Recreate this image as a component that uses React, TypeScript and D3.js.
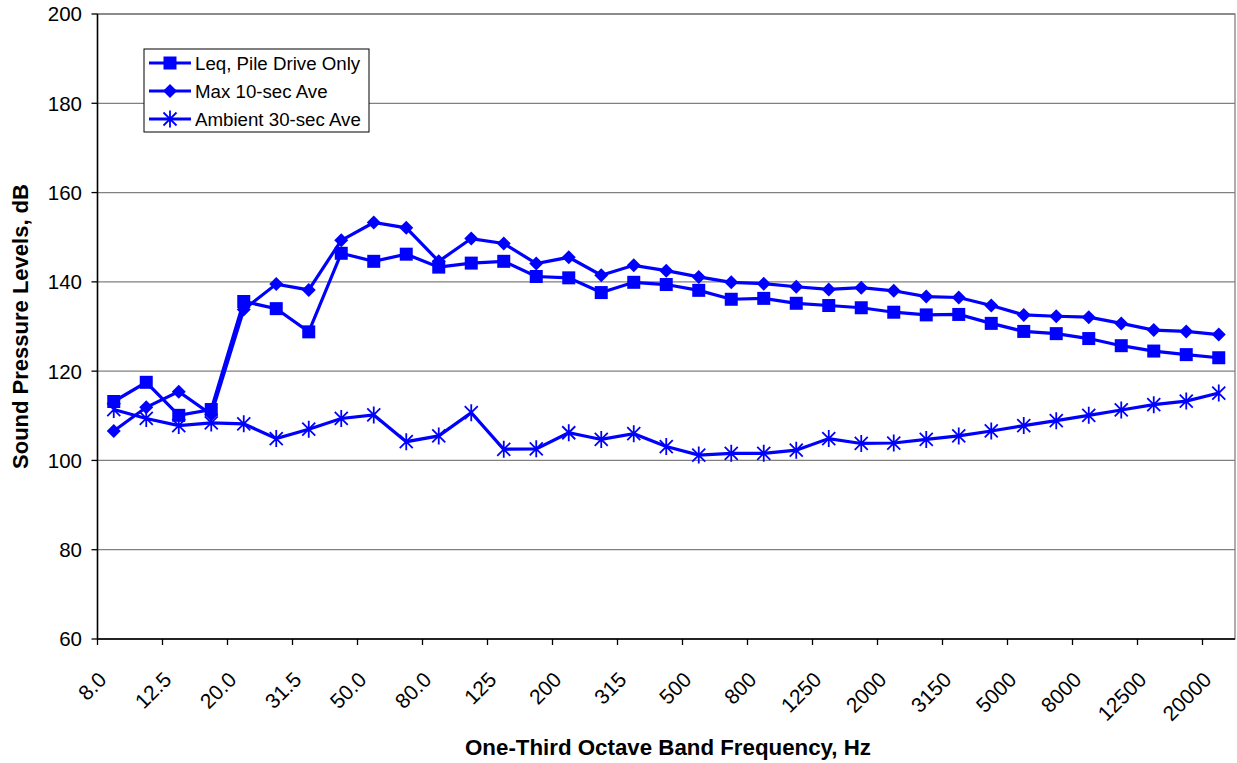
import React from 'react';
import * as d3 from 'd3';

// one-third octave band centre frequencies (Hz)
const bands = [
  '8.0', '10.0', '12.5', '16.0', '20.0', '25.0', '31.5', '40.0', '50.0', '63.0',
  '80.0', '100', '125', '160', '200', '250', '315', '400', '500', '630',
  '800', '1000', '1250', '1600', '2000', '2500', '3150', '4000', '5000', '6300',
  '8000', '10000', '12500', '16000', '20000',
];

const leqPileDrive = [
  113.2, 117.5, 110.1, 111.4, 135.6, 134.0, 128.8, 146.4, 144.6, 146.2,
  143.3, 144.2, 144.6, 141.2, 140.9, 137.6, 139.9, 139.4, 138.1, 136.1,
  136.3, 135.2, 134.7, 134.2, 133.2, 132.6, 132.7, 130.7, 128.9, 128.4,
  127.3, 125.7, 124.5, 123.7, 123.0,
];

const max10sec = [
  106.6, 111.9, 115.4, 110.3, 133.8, 139.5, 138.2, 149.3, 153.3, 152.1,
  144.6, 149.7, 148.6, 144.1, 145.5, 141.5, 143.7, 142.5, 141.1, 139.9,
  139.6, 138.9, 138.3, 138.7, 138.0, 136.7, 136.5, 134.7, 132.6, 132.3,
  132.1, 130.7, 129.2, 128.9, 128.2,
];

const ambient30sec = [
  111.4, 109.4, 107.8, 108.4, 108.2, 104.9, 107.0, 109.4, 110.2, 104.2,
  105.5, 110.7, 102.5, 102.6, 106.2, 104.7, 106.0, 103.1, 101.2, 101.6,
  101.6, 102.3, 104.9, 103.8, 103.9, 104.7, 105.5, 106.6, 107.8, 108.9,
  110.1, 111.3, 112.5, 113.3, 115.1,
];

const yTicks = [60, 80, 100, 120, 140, 160, 180, 200];

const seriesNames = ['Leq, Pile Drive Only', 'Max 10-sec Ave', 'Ambient 30-sec Ave'];

const W = 1237;
const H = 763;
const margin = { top: 14, right: 2, bottom: 124, left: 97.5 };
const FONT = '"Liberation Sans", Arial, sans-serif';
const BLUE = '#0000FF';

// marker shapes drawn around (0,0)
const Marker = ({ kind }: { kind: string }) => {
  if (kind === 'square') {
    return <rect x={-6.5} y={-6.5} width={13} height={13} fill={BLUE} />;
  }
  if (kind === 'diamond') {
    return <path d="M0,-7L7,0L0,7L-7,0Z" fill={BLUE} />;
  }
  // star: X plus a vertical stroke
  return (
    <path
      d="M-6.5,-6.5L6.5,6.5M-6.5,6.5L6.5,-6.5M0,-8.5L0,8.5"
      stroke={BLUE}
      strokeWidth={1.8}
      fill="none"
    />
  );
};

export default function App() {
  const x = d3
    .scaleBand<string>()
    .domain(bands)
    .range([margin.left, W - margin.right])
    .padding(0);

  const y = d3
    .scaleLinear()
    .domain([60, 200])
    .range([H - margin.bottom, margin.top]);

  const cx = (i: number) => (x(bands[i]) as number) + x.bandwidth() / 2;

  const line = d3
    .line<number>()
    .x((_, i) => cx(i))
    .y((d) => y(d));

  const series = [
    { name: seriesNames[0], values: leqPileDrive, marker: 'square' },
    { name: seriesNames[1], values: max10sec, marker: 'diamond' },
    { name: seriesNames[2], values: ambient30sec, marker: 'star' },
  ];

  const x0 = margin.left;
  const x1 = W - margin.right;
  const y0 = H - margin.bottom;
  const y1 = margin.top;

  return (
    <svg
      width={W}
      height={H}
      style={{ position: 'absolute', left: 0, top: 0, background: '#fff' }}
      fontFamily={FONT}
    >
      {/* gridlines */}
      {yTicks.map((t) => (
        <line key={t} x1={x0} x2={x1} y1={y(t)} y2={y(t)} stroke="#808080" strokeWidth={1.3} />
      ))}
      <rect x={x0} y={y1} width={x1 - x0} height={y0 - y1} fill="none" stroke="#808080" strokeWidth={1.3} />

      {/* y axis */}
      <line x1={x0} x2={x0} y1={y1} y2={y0} stroke="#000" strokeWidth={1.5} />
      {yTicks.map((t) => (
        <g key={t}>
          <line x1={x0 - 6} x2={x0} y1={y(t)} y2={y(t)} stroke="#000" strokeWidth={1.3} />
          <text x={82} y={y(t)} dy="0.36em" textAnchor="end" fontSize={20.5}>
            {t}
          </text>
        </g>
      ))}

      {/* x axis */}
      <line x1={x0} x2={x1} y1={y0} y2={y0} stroke="#000" strokeWidth={1.5} />
      {bands.map((b, i) =>
        i % 2 === 0 ? (
          <g key={b}>
            <line
              x1={x(b) as number}
              x2={x(b) as number}
              y1={y0}
              y2={y0 + 6}
              stroke="#000"
              strokeWidth={1.3}
            />
            <text
              transform={`translate(${cx(i) - 6},${y0 + 42}) rotate(-45)`}
              textAnchor="end"
              fontSize={21}
            >
              {b}
            </text>
          </g>
        ) : null
      )}

      {/* series */}
      {series.map((s) => (
        <g key={s.name}>
          <path d={line(s.values) as string} fill="none" stroke={BLUE} strokeWidth={3.2} />
          {s.values.map((v, i) => (
            <g key={i} transform={`translate(${cx(i)},${y(v)})`}>
              <Marker kind={s.marker} />
            </g>
          ))}
        </g>
      ))}

      {/* axis titles */}
      <text x={668} y={755} textAnchor="middle" fontSize={22.3} fontWeight="bold">
        One-Third Octave Band Frequency, Hz
      </text>
      <text
        transform={`translate(28,${(y0 + y1) / 2}) rotate(-90)`}
        textAnchor="middle"
        fontSize={22}
        fontWeight="bold"
      >
        Sound Pressure Levels, dB
      </text>

      {/* legend */}
      <g transform="translate(144,49)">
        <rect x={0} y={0} width={225} height={83} fill="#fff" stroke="#000" strokeWidth={1} />
        {series.map((s, i) => (
          <g key={s.name} transform={`translate(0,${14 + i * 28})`}>
            <line x1={5} x2={47} y1={0} y2={0} stroke={BLUE} strokeWidth={3.2} />
            <g transform="translate(26,0)">
              <Marker kind={s.marker} />
            </g>
            <text x={51} y={0} dy="0.36em" fontSize={18.7}>
              {s.name}
            </text>
          </g>
        ))}
      </g>
    </svg>
  );
}
